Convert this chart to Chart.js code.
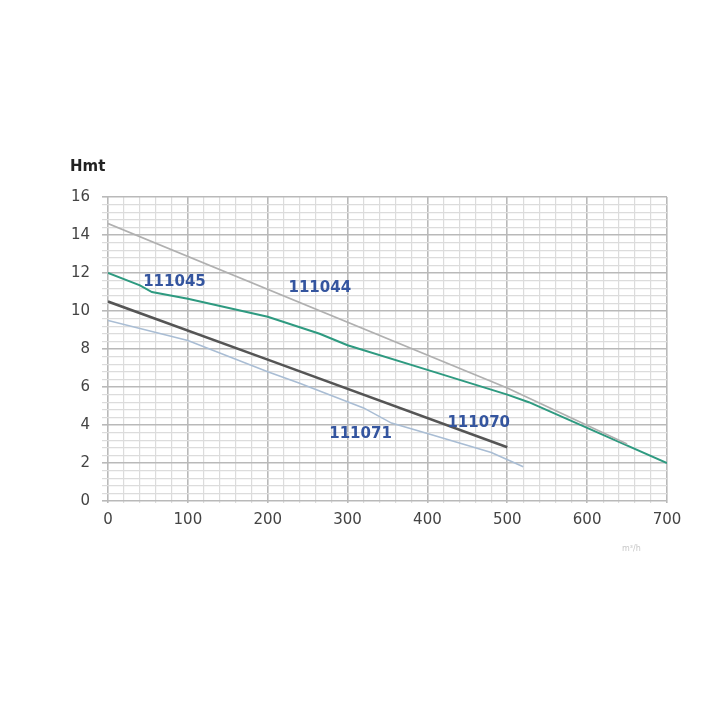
<!DOCTYPE html>
<html>
<head>
<meta charset="utf-8">
<script src="https://cdn.jsdelivr.net/npm/chart.js@4.4.1/dist/chart.umd.min.js"></script>
<style>
  html,body{margin:0;padding:0;background:#fff;}
  #wrap{position:relative;width:720px;height:720px;}
</style>
</head>
<body>
<div id="wrap"><canvas id="pumpChart" width="720" height="720"></canvas></div>
<script>
// flow (x) and head Hmt (y)
const flow111044 = [0, 500, 650];
const head111044 = [14.6, 5.95, 3.0];

const flow111045 = [0, 40, 55, 100, 200, 265, 300, 400, 500, 527, 600, 700];
const head111045 = [12.0, 11.35, 11.0, 10.65, 9.7, 8.8, 8.2, 6.9, 5.6, 5.2, 3.85, 2.0];

const flow111070 = [0, 200, 500];
const head111070 = [10.5, 7.44, 2.83];

const flow111071 = [0, 100, 200, 240, 320, 355, 400, 480, 520];
const head111071 = [9.5, 8.45, 6.8, 6.2, 4.9, 4.1, 3.55, 2.55, 1.8];

const xTicks = [0, 100, 200, 300, 400, 500, 600, 700];
const yTicks = [0, 2, 4, 6, 8, 10, 12, 14, 16];

// curve names and where they are written (data units)
const curveLabels = [
  { text: '111045', x: 44, y: 11.5 },
  { text: '111044', x: 226, y: 11.2 },
  { text: '111070', x: 425, y: 4.1 },
  { text: '111071', x: 277, y: 3.5 }
];

function pts(xs, ys){ return xs.map((x,i)=>({x:x, y:ys[i]})); }
function isMajor(v, step){ return Math.abs(v/step - Math.round(v/step)) < 1e-6; }

const labelPlugin = {
  id: 'curveLabels',
  afterDatasetsDraw(chart){
    const ctx = chart.ctx, xs = chart.scales.x, ys = chart.scales.y;
    ctx.save();
    ctx.font = 'bold 15px "DejaVu Sans"';
    ctx.fillStyle = '#34559f';
    ctx.textBaseline = 'middle';
    curveLabels.forEach(l => {
      ctx.fillText(l.text, xs.getPixelForValue(l.x), ys.getPixelForValue(l.y));
    });
    // axis title
    ctx.font = 'bold 15px "DejaVu Sans"';
    ctx.fillStyle = '#222';
    ctx.fillText('Hmt', 70, 167);
    ctx.font = '8px "DejaVu Sans"';
    ctx.fillStyle = '#c8c8c8';
    ctx.fillText('m³/h', 622, 549);
    ctx.restore();
  }
};

new Chart(document.getElementById('pumpChart'), {
  type: 'line',
  data: {
    datasets: [
      { data: pts(flow111044, head111044), borderColor: '#b0b0b0', borderWidth: 1.8 },
      { data: pts(flow111045, head111045), borderColor: '#2e9a80', borderWidth: 2 },
      { data: pts(flow111070, head111070), borderColor: '#555555', borderWidth: 2.6 },
      { data: pts(flow111071, head111071), borderColor: '#a9bdd4', borderWidth: 1.6 }
    ]
  },
  options: {
    responsive: false,
    animation: false,
    events: [],
    elements: { point: { radius: 0 }, line: { tension: 0 } },
    layout: { padding: { left: 48, right: 53, top: 197, bottom: 189 } },
    plugins: { legend: { display: false }, tooltip: { enabled: false } },
    scales: {
      x: {
        type: 'linear', min: 0, max: 700,
        afterFit: s => { s.height = 30; },
        afterBuildTicks: s => { s.ticks = []; for (let v = 0; v <= 700; v += 20) s.ticks.push({ value: v }); },
        ticks: {
          autoSkip: false, maxRotation: 0, padding: 8,
          color: '#444', font: { family: 'DejaVu Sans', size: 15 },
          callback: v => xTicks.includes(v) ? String(v) : ''
        },
        grid: {
          tickLength: 2,
          color: c => isMajor(c.tick.value, 100) ? '#b9b9b9' : '#dcdcdc',
          lineWidth: c => isMajor(c.tick.value, 100) ? 1.6 : 1.2
        },
        border: { display: false }
      },
      y: {
        type: 'linear', min: 0, max: 16,
        afterFit: s => { s.width = 60; },
        afterBuildTicks: s => { s.ticks = []; for (let i = 0; i <= 40; i++) s.ticks.push({ value: Math.round(i * 4) / 10 }); },
        ticks: {
          autoSkip: false, padding: 12,
          color: '#444', font: { family: 'DejaVu Sans', size: 15 },
          callback: v => yTicks.some(t => Math.abs(t - v) < 1e-6) ? String(Math.round(v)) : ''
        },
        grid: {
          tickLength: 6,
          color: c => isMajor(c.tick.value, 2) ? '#b9b9b9' : '#dcdcdc',
          lineWidth: c => isMajor(c.tick.value, 2) ? 1.6 : 1.2
        },
        border: { display: false }
      }
    }
  },
  plugins: [labelPlugin]
});
</script>
</body>
</html>
